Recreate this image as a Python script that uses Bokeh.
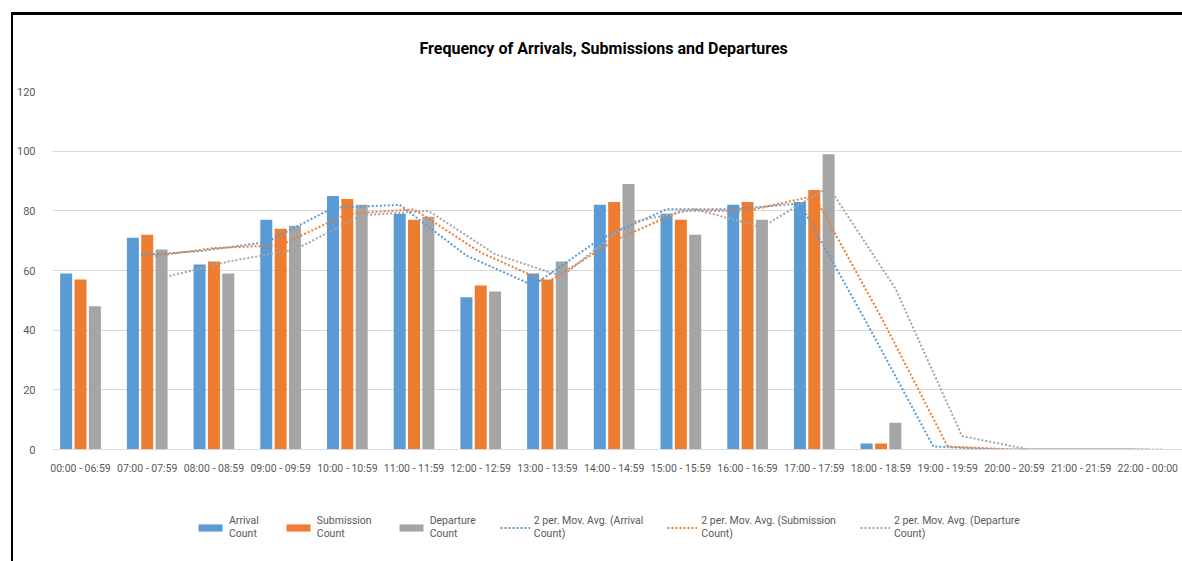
from bokeh.plotting import figure
from bokeh.layouts import column
from bokeh.models import ColumnDataSource, Legend, LegendItem, FixedTicker, Range1d, Title
from bokeh.embed import file_html
from bokeh.resources import INLINE

categories = ["00:00 - 06:59", "07:00 - 07:59", "08:00 - 08:59", "09:00 - 09:59",
              "10:00 - 10:59", "11:00 - 11:59", "12:00 - 12:59", "13:00 - 13:59",
              "14:00 - 14:59", "15:00 - 15:59", "16:00 - 16:59", "17:00 - 17:59",
              "18:00 - 18:59", "19:00 - 19:59", "20:00 - 20:59", "21:00 - 21:59",
              "22:00 - 00:00"]
arrival = [59, 71, 62, 77, 85, 79, 51, 59, 82, 79, 82, 83, 2, 0, 0, 0, 0]
submission = [57, 72, 63, 74, 84, 77, 55, 57, 83, 77, 83, 87, 2, 0, 0, 0, 0]
departure = [48, 67, 59, 75, 82, 78, 53, 63, 89, 72, 77, 99, 9, 0, 0, 0, 0]
y_ticks = [0, 20, 40, 60, 80, 100, 120]
legend_labels = ["Arrival\nCount", "Submission\nCount", "Departure\nCount",
                 "2 per. Mov. Avg. (Arrival\nCount)", "2 per. Mov. Avg. (Submission\nCount)",
                 "2 per. Mov. Avg. (Departure\nCount)"]

BLUE, ORANGE, GREY = "#5B9BD5", "#ED7D31", "#A5A5A5"
FONT = "Roboto"
TXT = "#595959"

idx = list(range(len(categories)))

p = figure(width=1169, height=475, output_backend="svg", toolbar_location=None,
           x_range=Range1d(-0.42, 16.52), y_range=Range1d(0, 120),
           min_border_left=34, min_border_right=0, min_border_top=76, min_border_bottom=41)
p.outline_line_color = None

# spacer between the title and the plot area
p.add_layout(Title(text=" ", text_font_size="24px", standoff=0), "above")
p.title.text = "Frequency of Arrivals, Submissions and Departures"
p.title.align = "left"
p.title.offset = 367
p.title.text_font = FONT
p.title.text_font_size = "16px"
p.title.text_font_style = "bold"
p.title.text_color = "#000000"

offsets = [-0.215, 0.0, 0.215]
colors = [BLUE, ORANGE, GREY]
datas = [arrival, submission, departure]
bar_src, ma_src = [], []
for vals, off, col in zip(datas, offsets, colors):
    src = ColumnDataSource(dict(x=[i + off for i in idx], top=vals))
    p.vbar(x="x", top="top", width=0.18, source=src, fill_color=col, line_color=None)
    bar_src.append(src)
for vals, off, col in zip(datas, offsets, colors):
    ma = [(vals[i - 1] + vals[i]) / 2 for i in idx[1:]]
    src = ColumnDataSource(dict(x=[i + off for i in idx[1:]], y=ma))
    p.line(x="x", y="y", source=src, line_color=col, line_width=2, line_dash="2 2")
    ma_src.append(src)

p.xgrid.grid_line_color = None
p.ygrid.grid_line_color = "#D9D9D9"
p.ygrid.ticker = FixedTicker(ticks=y_ticks)

xa = p.xaxis[0]
xa.ticker = FixedTicker(ticks=idx)
xa.major_label_overrides = {i: c for i, c in enumerate(categories)}
xa.axis_line_color = "#D9D9D9"
xa.major_tick_line_color = None
xa.minor_tick_line_color = None
xa.major_label_text_font = FONT
xa.major_label_text_font_size = "10.5px"
xa.major_label_text_color = TXT
xa.major_label_standoff = 6

ya = p.yaxis[0]
ya.ticker = FixedTicker(ticks=y_ticks)
ya.axis_line_color = None
ya.major_tick_line_color = None
ya.minor_tick_line_color = None
ya.major_label_text_font = FONT
ya.major_label_text_font_size = "11px"
ya.major_label_text_color = TXT
ya.major_label_standoff = 11

# legend strip below the chart (its renderers share the chart's data, kept out of view)
lf = figure(width=1169, height=71, output_backend="svg", toolbar_location=None,
            x_range=Range1d(100, 101), y_range=Range1d(500, 501),
            x_axis_location=None, y_axis_location=None,
            min_border_left=0, min_border_right=0, min_border_top=0, min_border_bottom=0)
lf.outline_line_color = None
lf.xgrid.grid_line_color = None
lf.ygrid.grid_line_color = None
leg_r = []
for src, col in zip(bar_src, colors):
    leg_r.append(lf.vbar(x="x", top="top", width=0.18, source=src, fill_color=col, line_color=None))
for src, col in zip(ma_src, colors):
    leg_r.append(lf.line(x="x", y="y", source=src, line_color=col, line_width=2, line_dash="2 2"))
items = [LegendItem(label=l, renderers=[r]) for l, r in zip(legend_labels, leg_r)]
legend = Legend(items=items, orientation="horizontal", location=(143, 21),
                label_text_font=FONT, label_text_font_size="10.5px", label_text_color=TXT,
                glyph_width=30, glyph_height=9, spacing=24, label_standoff=4,
                border_line_color=None, background_fill_alpha=0, padding=2, margin=0)
lf.add_layout(legend, "center")

page = column(p, lf, spacing=0)
page.styles = {"margin-left": "11px", "margin-top": "12px",
               "border-top": "3px solid black", "border-left": "2px solid black"}

open("out.html", "w").write(file_html(page, INLINE))
